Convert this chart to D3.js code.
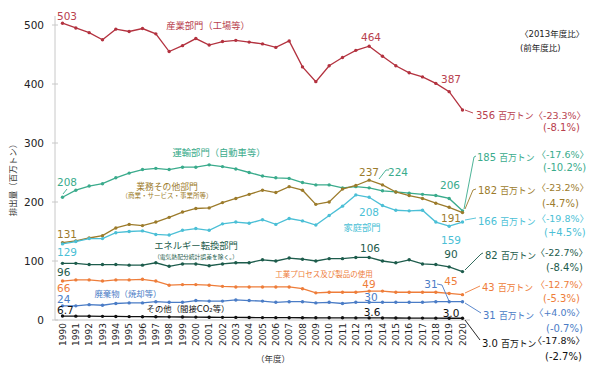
<!DOCTYPE html>
<html><head><meta charset="utf-8">
<script src="https://cdn.jsdelivr.net/npm/d3@7"></script>
<style>
html,body{margin:0;padding:0;background:#fff;}
svg{display:block;}
text{font-family:"DejaVu Sans","Noto Sans CJK JP",sans-serif;}
</style></head>
<body><svg id="c" width="600" height="370"></svg>
<script>
const years = [1990,1991,1992,1993,1994,1995,1996,1997,1998,1999,2000,2001,2002,2003,2004,2005,2006,2007,2008,2009,2010,2011,2012,2013,2014,2015,2016,2017,2018,2019,2020];
const yTicks = [0,100,200,300,400,500];

const industry  = [503,495,487,475,493,489,494,485,455,465,477,466,472,474,471,468,462,473,429,404,431,445,457,464,447,431,419,412,401,387,356];
const transport = [208,220,227,231,241,249,255,257,255,259,259,263,260,256,250,244,241,240,233,229,229,224,226,224,219,217,215,213,211,206,185];
const business  = [131,134,139,143,156,162,160,166,174,183,189,190,199,206,213,220,216,226,220,196,200,222,228,237,229,217,211,206,198,191,182];
const household = [129,133,138,138,148,150,151,145,144,152,155,152,163,166,164,170,162,172,168,161,177,193,212,208,194,186,185,186,166,159,166];
const energy    = [96,96,94,94,94,93,93,97,91,95,95,92,95,97,97,102,100,105,103,100,104,104,106,106,100,97,102,95,94,90,82];
const process   = [66,68,68,66,68,68,69,66,59,60,60,59,57,56,56,56,56,56,53,46,47,47,47,49,49,47,47,47,47,45,43];
const waste     = [24,24,26,25,28,29,29,31,30,30,33,32,32,34,33,32,30,31,31,29,30,28,30,30,30,30,30,30,31,31,31];
const other     = [6.7,6.5,6.4,6.2,6.0,5.8,5.6,5.5,5.3,5.1,4.9,4.7,4.5,4.4,4.2,4.1,4.0,3.9,3.8,3.7,3.7,3.7,3.6,3.6,3.5,3.4,3.3,3.2,3.1,3.0,3.0];

const seriesNames = ["産業部門（工場等）","運輸部門（自動車等）","業務その他部門","家庭部門","エネルギー転換部門","工業プロセス及び製品の使用","廃棄物（焼却等）","その他（間接CO₂等）"];
const endLabels = ["356","185","182","166","82","43","31","3.0"];
const vs2013 = ["-23.3%","-17.6%","-23.2%","-19.8%","-22.7%","-12.7%","+4.0%","-17.8%"];
const vsPrev = ["-8.1%","-10.2%","-4.7%","+4.5%","-8.4%","-5.3%","-0.7%","-2.7%"];
const unitLabel = "百万トン";

const colors = ["#b3323f","#3aab8c","#9c7b2b","#4bbfd6","#1d5c4c","#ee7d3a","#4a7cc6","#111111"];
const textColors = ["#b8414e","#3aab8c","#9c7b2b","#4bbfd6","#1d5c4c","#ee7d3a","#4a7cc6","#111111"];
const data = [industry,transport,business,household,energy,process,waste,other];

const svg = d3.select("#c");
const x = d3.scaleLinear().domain([1990,2020]).range([62.5,462.5]);
const y = d3.scaleLinear().domain([0,500]).range([320,25]);

// axes
svg.append("line").attr("x1",55).attr("x2",55).attr("y1",16).attr("y2",320).attr("stroke","#c8c8c8");
svg.append("line").attr("x1",55).attr("x2",470).attr("y1",320).attr("y2",320).attr("stroke","#c8c8c8");
yTicks.forEach(t=>{
  svg.append("line").attr("x1",52).attr("x2",58).attr("y1",y(t)).attr("y2",y(t)).attr("stroke","#c8c8c8");
  svg.append("text").attr("x",44).attr("y",y(t)).attr("dy","0.36em").attr("text-anchor","end")
    .attr("font-size",10.5).attr("fill","#222").text(t);
});
years.forEach(yr=>{
  svg.append("text").attr("transform",`translate(${x(yr)},323) rotate(-90)`).attr("dy","0.36em")
    .attr("text-anchor","end").attr("font-size",9).attr("fill","#222").text(yr);
});
svg.append("text").attr("x",273).attr("y",359).attr("dy","0.35em").attr("text-anchor","middle")
  .attr("font-size",8.5).attr("fill","#333").text("（年度）");
svg.append("text").attr("transform","translate(13,178) rotate(-90)").attr("dy","0.35em").attr("text-anchor","middle")
  .attr("font-size",8.5).attr("fill","#333").text("排出量（百万トン）");

// lines
const line = d3.line().x((d,i)=>x(years[i])).y(d=>y(d));
data.forEach((s,k)=>{
  svg.append("path").datum(s).attr("d",line).attr("fill","none").attr("stroke",colors[k]).attr("stroke-width",1.3);
  svg.selectAll(null).data(s).enter().append("circle").attr("cx",(d,i)=>x(years[i])).attr("cy",d=>y(d))
    .attr("r",1.7).attr("fill",colors[k]);
});

function txt(xx,yy,s,k,fs,anchor){
  return svg.append("text").attr("x",xx).attr("y",yy).attr("dy","0.36em").attr("text-anchor",anchor||"start")
    .attr("font-size",fs).attr("fill",textColors[k]).text(s);
}
function lead(pts,k){
  svg.append("path").attr("d",d3.line()(pts)).attr("fill","none").attr("stroke",colors[k]).attr("stroke-width",0.9);
}
// point labels
txt(57,16,industry[0],0,10.5);
txt(371,37,industry[23],0,10.5,"middle");
txt(451,79,industry[29],0,10.5,"middle");
txt(57,182,transport[0],1,10.5);
lead([[67,189],[63,194]],1);
txt(398,172,transport[23],1,10.5,"middle");
lead([[379,179],[386,170],[389,170]],1);
txt(450,185,transport[29],1,10.5,"middle");
txt(57,234,business[0],2,10.5);
txt(369,172,business[23],2,10.5,"middle");
txt(451,218,business[29],2,10.5,"middle");
txt(57,252,household[0],3,10.5);
txt(369,212,household[23],3,10.5,"middle");
txt(451,240,household[29],3,10.5,"middle");
txt(57,272,energy[0],4,10.5);
txt(370,248,energy[23],4,10.5,"middle");
txt(451,254,energy[29],4,10.5,"middle");
txt(57,288,process[0],5,10.5);
txt(369,284,process[23],5,10.5,"middle");
txt(451,281,process[29],5,10.5,"middle");
txt(57,299.5,waste[0],6,10.5);
txt(371,297,waste[23],6,10.5,"middle");
txt(431,284,waste[29],6,10.5,"middle");
lead([[437,284],[442,285],[449,301]],6);
txt(57,310,other[0].toFixed(1),7,10.5);
txt(372,312,other[23].toFixed(1),7,10.5,"middle");
txt(451,313,other[29].toFixed(1),7,10.5,"middle");

// series name labels
txt(208,26,seriesNames[0],0,9.3,"middle");
txt(219,153,seriesNames[1],1,9.3,"middle");
txt(167,187,seriesNames[2],2,8.8,"middle");
txt(167,196,"（商業・サービス・事業所等）",2,6.5,"middle");
txt(362,228,seriesNames[3],3,9.3,"middle");
txt(196,246,seriesNames[4],4,9.3,"middle");
txt(196,257,"（電気熱配分統計誤差を除く。）",4,5.8,"middle");
txt(324,274,seriesNames[5],5,7.5,"middle");
txt(128,294,seriesNames[6],6,8.4,"middle");
txt(188,309,seriesNames[7],7,8.4,"middle");

// header
svg.append("text").attr("x",520).attr("y",34).attr("dy","0.35em").attr("font-size",8.5).attr("fill","#222").text("〈2013年度比〉");
svg.append("text").attr("x",520).attr("y",48).attr("dy","0.35em").attr("font-size",8.5).attr("fill","#222").text("(前年度比)");

// right annotations
const ann = [
  {my:113, mx:476, bx:null, sy:127, sx:543, l:[[465,110],[473,113]]},
  {my:155, mx:477, bx:589, sy:167, sx:543, l:[[464,209],[474,157],[476,156]]},
  {my:188, mx:478, bx:589, sy:203, sx:542, l:[[465,209],[473,190],[476,189]]},
  {my:219, mx:478, bx:589, sy:232, sx:544, l:[[465,220],[476,218]]},
  {my:253, mx:485, bx:588, sy:267, sx:546, l:[[465,270],[481,254],[483,253]]},
  {my:285, mx:482, bx:588, sy:298, sx:543, l:[[465,293],[480,286]]},
  {my:313, mx:483, bx:585, sy:328, sx:546, l:[[465,303],[481,313]]},
  {my:341, mx:482, bx:585, sy:356, sx:545, l:[[465,320],[480,340]]}
];
ann.forEach((a,k)=>{
  lead(a.l,k);
  const t = svg.append("text").attr("x",a.mx).attr("y",a.my).attr("dy","0.36em").attr("fill",textColors[k]);
  t.append("tspan").attr("font-size",10).text(endLabels[k]+" ");
  t.append("tspan").attr("font-size",8.8).text(unitLabel);
  if(a.bx===null){
    t.append("tspan").attr("font-size",9.5).text("〈"+vs2013[k]+"〉");
  } else {
    txt(a.bx,a.my,"〈"+vs2013[k]+"〉",k,9.5,"end");
  }
  txt(a.sx,a.sy,"("+vsPrev[k]+")",k,10);
});
</script></body></html>
